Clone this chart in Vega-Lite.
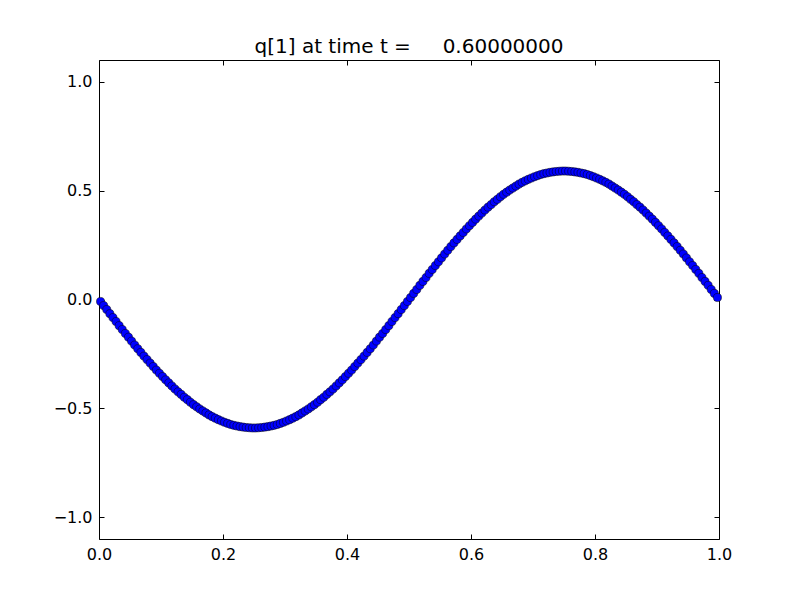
{
  "$schema": "https://vega.github.io/schema/vega-lite/v6.json",
  "width": 620,
  "height": 479,
  "autosize": {"type": "none"},
  "padding": {"left": 99, "top": 60, "right": 81, "bottom": 61},
  "background": "white",
  "config": {
    "font": "DejaVu Sans",
    "view": {"stroke": null},
    "axis": {"grid": false, "domainColor": "black", "domainWidth": 1, "tickColor": "black", "tickWidth": 1, "tickSize": -5, "labelFont": "DejaVu Sans", "labelFontSize": 16, "labelColor": "black"}
  },
  "title": {"text": "q[1] at time t =\u00a0\u00a0\u00a0\u00a0\u00a00.60000000", "fontSize": 20, "fontWeight": "normal", "font": "DejaVu Sans", "color": "black", "offset": 3, "anchor": "middle"},
  "data": {"values": [
{"x":0.0025,"q":-0.009},{"x":0.0075,"q":-0.028},{"x":0.0125,"q":-0.046},{"x":0.0175,"q":-0.065},{"x":0.0225,"q":-0.083},
{"x":0.0275,"q":-0.101},{"x":0.0325,"q":-0.120},{"x":0.0375,"q":-0.138},{"x":0.0425,"q":-0.156},{"x":0.0475,"q":-0.173},
{"x":0.0525,"q":-0.191},{"x":0.0575,"q":-0.209},{"x":0.0625,"q":-0.226},{"x":0.0675,"q":-0.243},{"x":0.0725,"q":-0.260},
{"x":0.0775,"q":-0.276},{"x":0.0825,"q":-0.292},{"x":0.0875,"q":-0.308},{"x":0.0925,"q":-0.324},{"x":0.0975,"q":-0.339},
{"x":0.1025,"q":-0.354},{"x":0.1075,"q":-0.369},{"x":0.1125,"q":-0.383},{"x":0.1175,"q":-0.397},{"x":0.1225,"q":-0.411},
{"x":0.1275,"q":-0.424},{"x":0.1325,"q":-0.436},{"x":0.1375,"q":-0.449},{"x":0.1425,"q":-0.460},{"x":0.1475,"q":-0.472},
{"x":0.1525,"q":-0.483},{"x":0.1575,"q":-0.493},{"x":0.1625,"q":-0.503},{"x":0.1675,"q":-0.512},{"x":0.1725,"q":-0.521},
{"x":0.1775,"q":-0.530},{"x":0.1825,"q":-0.538},{"x":0.1875,"q":-0.545},{"x":0.1925,"q":-0.552},{"x":0.1975,"q":-0.558},
{"x":0.2025,"q":-0.564},{"x":0.2075,"q":-0.569},{"x":0.2125,"q":-0.574},{"x":0.2175,"q":-0.578},{"x":0.2225,"q":-0.581},
{"x":0.2275,"q":-0.584},{"x":0.2325,"q":-0.586},{"x":0.2375,"q":-0.588},{"x":0.2425,"q":-0.589},{"x":0.2475,"q":-0.590},
{"x":0.2525,"q":-0.590},{"x":0.2575,"q":-0.589},{"x":0.2625,"q":-0.588},{"x":0.2675,"q":-0.586},{"x":0.2725,"q":-0.584},
{"x":0.2775,"q":-0.581},{"x":0.2825,"q":-0.578},{"x":0.2875,"q":-0.574},{"x":0.2925,"q":-0.569},{"x":0.2975,"q":-0.564},
{"x":0.3025,"q":-0.558},{"x":0.3075,"q":-0.552},{"x":0.3125,"q":-0.545},{"x":0.3175,"q":-0.538},{"x":0.3225,"q":-0.530},
{"x":0.3275,"q":-0.521},{"x":0.3325,"q":-0.512},{"x":0.3375,"q":-0.503},{"x":0.3425,"q":-0.493},{"x":0.3475,"q":-0.483},
{"x":0.3525,"q":-0.472},{"x":0.3575,"q":-0.460},{"x":0.3625,"q":-0.449},{"x":0.3675,"q":-0.436},{"x":0.3725,"q":-0.424},
{"x":0.3775,"q":-0.411},{"x":0.3825,"q":-0.397},{"x":0.3875,"q":-0.383},{"x":0.3925,"q":-0.369},{"x":0.3975,"q":-0.354},
{"x":0.4025,"q":-0.339},{"x":0.4075,"q":-0.324},{"x":0.4125,"q":-0.308},{"x":0.4175,"q":-0.292},{"x":0.4225,"q":-0.276},
{"x":0.4275,"q":-0.260},{"x":0.4325,"q":-0.243},{"x":0.4375,"q":-0.226},{"x":0.4425,"q":-0.209},{"x":0.4475,"q":-0.191},
{"x":0.4525,"q":-0.173},{"x":0.4575,"q":-0.156},{"x":0.4625,"q":-0.138},{"x":0.4675,"q":-0.120},{"x":0.4725,"q":-0.101},
{"x":0.4775,"q":-0.083},{"x":0.4825,"q":-0.065},{"x":0.4875,"q":-0.046},{"x":0.4925,"q":-0.028},{"x":0.4975,"q":-0.009},
{"x":0.5025,"q":0.009},{"x":0.5075,"q":0.028},{"x":0.5125,"q":0.046},{"x":0.5175,"q":0.065},{"x":0.5225,"q":0.083},
{"x":0.5275,"q":0.101},{"x":0.5325,"q":0.120},{"x":0.5375,"q":0.138},{"x":0.5425,"q":0.156},{"x":0.5475,"q":0.173},
{"x":0.5525,"q":0.191},{"x":0.5575,"q":0.209},{"x":0.5625,"q":0.226},{"x":0.5675,"q":0.243},{"x":0.5725,"q":0.260},
{"x":0.5775,"q":0.276},{"x":0.5825,"q":0.292},{"x":0.5875,"q":0.308},{"x":0.5925,"q":0.324},{"x":0.5975,"q":0.339},
{"x":0.6025,"q":0.354},{"x":0.6075,"q":0.369},{"x":0.6125,"q":0.383},{"x":0.6175,"q":0.397},{"x":0.6225,"q":0.411},
{"x":0.6275,"q":0.424},{"x":0.6325,"q":0.436},{"x":0.6375,"q":0.449},{"x":0.6425,"q":0.460},{"x":0.6475,"q":0.472},
{"x":0.6525,"q":0.483},{"x":0.6575,"q":0.493},{"x":0.6625,"q":0.503},{"x":0.6675,"q":0.512},{"x":0.6725,"q":0.521},
{"x":0.6775,"q":0.530},{"x":0.6825,"q":0.538},{"x":0.6875,"q":0.545},{"x":0.6925,"q":0.552},{"x":0.6975,"q":0.558},
{"x":0.7025,"q":0.564},{"x":0.7075,"q":0.569},{"x":0.7125,"q":0.574},{"x":0.7175,"q":0.578},{"x":0.7225,"q":0.581},
{"x":0.7275,"q":0.584},{"x":0.7325,"q":0.586},{"x":0.7375,"q":0.588},{"x":0.7425,"q":0.589},{"x":0.7475,"q":0.590},
{"x":0.7525,"q":0.590},{"x":0.7575,"q":0.589},{"x":0.7625,"q":0.588},{"x":0.7675,"q":0.586},{"x":0.7725,"q":0.584},
{"x":0.7775,"q":0.581},{"x":0.7825,"q":0.578},{"x":0.7875,"q":0.574},{"x":0.7925,"q":0.569},{"x":0.7975,"q":0.564},
{"x":0.8025,"q":0.558},{"x":0.8075,"q":0.552},{"x":0.8125,"q":0.545},{"x":0.8175,"q":0.538},{"x":0.8225,"q":0.530},
{"x":0.8275,"q":0.521},{"x":0.8325,"q":0.512},{"x":0.8375,"q":0.503},{"x":0.8425,"q":0.493},{"x":0.8475,"q":0.483},
{"x":0.8525,"q":0.472},{"x":0.8575,"q":0.460},{"x":0.8625,"q":0.449},{"x":0.8675,"q":0.436},{"x":0.8725,"q":0.424},
{"x":0.8775,"q":0.411},{"x":0.8825,"q":0.397},{"x":0.8875,"q":0.383},{"x":0.8925,"q":0.369},{"x":0.8975,"q":0.354},
{"x":0.9025,"q":0.339},{"x":0.9075,"q":0.324},{"x":0.9125,"q":0.308},{"x":0.9175,"q":0.292},{"x":0.9225,"q":0.276},
{"x":0.9275,"q":0.260},{"x":0.9325,"q":0.243},{"x":0.9375,"q":0.226},{"x":0.9425,"q":0.209},{"x":0.9475,"q":0.191},
{"x":0.9525,"q":0.173},{"x":0.9575,"q":0.156},{"x":0.9625,"q":0.138},{"x":0.9675,"q":0.120},{"x":0.9725,"q":0.101},
{"x":0.9775,"q":0.083},{"x":0.9825,"q":0.065},{"x":0.9875,"q":0.046},{"x":0.9925,"q":0.028},{"x":0.9975,"q":0.009}
  ]},
  "layer": [
    {
      "mark": {"type": "point", "shape": "circle", "filled": true, "fill": "#0000ff", "stroke": "black", "strokeWidth": 0.5, "size": 66, "opacity": 1},
      "encoding": {
        "x": {"field": "x", "type": "quantitative", "scale": {"domain": [0, 1], "nice": false, "zero": false}, "axis": {"title": null, "orient": "bottom", "values": [0, 0.2, 0.4, 0.6, 0.8, 1.0], "format": ".1f", "labelPadding": 12, "labelFlush": false}},
        "y": {"field": "q", "type": "quantitative", "scale": {"domain": [-1.1, 1.1], "nice": false, "zero": false}, "axis": {"title": null, "orient": "left", "values": [-1.0, -0.5, 0, 0.5, 1.0], "format": ".1f", "labelPadding": 12, "labelFlush": false}}
      }
    },
    {
      "mark": {"type": "point", "opacity": 0},
      "encoding": {
        "x": {"field": "x", "type": "quantitative", "axis": {"title": null, "orient": "top", "values": [0, 0.2, 0.4, 0.6, 0.8, 1.0], "labels": false}},
        "y": {"field": "q", "type": "quantitative", "axis": {"title": null, "orient": "right", "values": [-1.0, -0.5, 0, 0.5, 1.0], "labels": false}}
      }
    }
  ],
  "resolve": {"axis": {"x": "independent", "y": "independent"}}
}
